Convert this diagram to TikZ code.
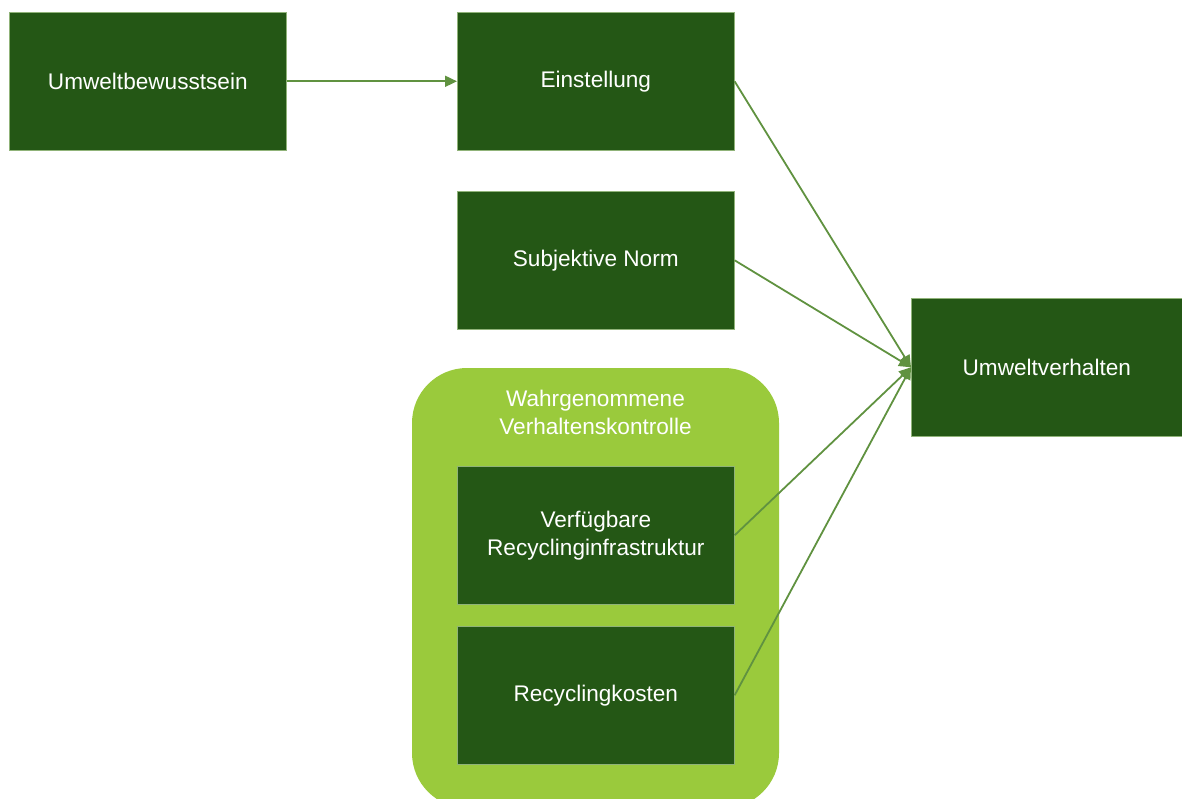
\documentclass[tikz,border=0pt]{standalone}
\usepackage{fontspec}
\setmainfont{Liberation Sans}
\usetikzlibrary{arrows.meta}
\definecolor{dkgreen}{RGB}{36,87,21}
\definecolor{ltgreen}{RGB}{154,202,60}
\definecolor{arrgreen}{RGB}{96,146,64}
\begin{document}
\begin{tikzpicture}[x=1pt,y=-1pt,
  box/.style={fill=dkgreen,draw=arrgreen!70,line width=0.6pt,text=white,font=\fontsize{22.6}{28}\selectfont,align=center,minimum width=277pt,minimum height=138pt,inner sep=0pt,anchor=north west},
  conn/.style={draw=arrgreen,line width=1.8pt,-{Triangle[length=12pt,width=11pt]}}]
\useasboundingbox (0,0) rectangle (1182,799);
\fill[ltgreen,rounded corners=55pt] (412,368) rectangle (779,808);
\node[text=white,font=\fontsize{22.6}{28}\selectfont,align=center] (pbc) at (595.5,412) {Wahrgenommene\\Verhaltenskontrolle};
\node[box] (ub) at (9,12) {Umweltbewusstsein};
\node[box] (ein) at (457,12) {Einstellung};
\node[box] (sn) at (457,191) {Subjektive Norm};
\node[box,minimum width=271pt] (uv) at (911,298) {Umweltverhalten};
\node[box] (vri) at (457,466) {Verfügbare\\Recyclinginfrastruktur};
\node[box] (rk) at (457,626) {Recyclingkosten};
\draw[conn] (ub.east) -- (ein.west);
\draw[conn] (ein.east) -- (uv.west);
\draw[conn] (sn.east) -- (uv.west);
\draw[conn] (vri.east) -- (uv.west);
\draw[conn] (rk.east) -- (uv.west);
\end{tikzpicture}
\end{document}
